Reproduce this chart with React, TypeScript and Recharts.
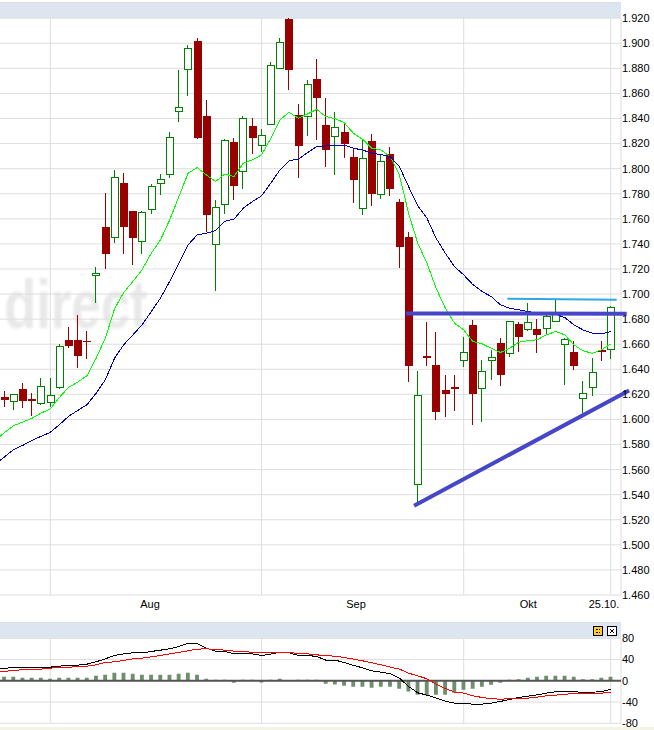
import {
  Bar,
  CartesianGrid,
  ComposedChart,
  Line,
  ReferenceLine,
  XAxis,
  YAxis,
} from 'recharts';

const opens = [
  1.618, 1.6144, 1.6245, 1.6165, 1.6128, 1.6136, 1.6258, 1.6636, 1.6636, 1.6628, 1.7151,
  1.7536, 1.7453, 1.7886, 1.7663, 1.7421, 1.7676, 1.7884, 1.7955, 1.8458, 1.8792, 1.9018,
  1.842, 1.7397, 1.7716, 1.8213, 1.7985, 1.8341, 1.8187, 1.8354, 1.8806, 1.9194, 1.8426,
  1.8418, 1.8715, 1.8346, 1.8258, 1.8293, 1.8094, 1.7684, 1.8221, 1.7796, 1.8117, 1.7735,
  1.7453, 1.5484, 1.6505, 1.6435, 1.6234, 1.626, 1.6473, 1.6754, 1.6249, 1.6473, 1.6611,
  1.6528, 1.6762, 1.6725, 1.672, 1.6728, 1.6789, 1.66, 1.6539, 1.617, 1.6257, 1.6555, 1.656,
];
const closes = [
  1.6152, 1.6203, 1.6144, 1.6144, 1.6266, 1.6195, 1.6585, 1.6582, 1.6503, 1.6614, 1.7167,
  1.7323, 1.7931, 1.7538, 1.7451, 1.7652, 1.786, 1.7916, 1.825, 1.8489, 1.896, 1.8248,
  1.7634, 1.7698, 1.8226, 1.7865, 1.8402, 1.8248, 1.8266, 1.8824, 1.9008, 1.879, 1.8184,
  1.8673, 1.8567, 1.8152, 1.8335, 1.82, 1.7913, 1.8083, 1.7801, 1.8059, 1.7841, 1.7379,
  1.643, 1.6194, 1.6494, 1.6056, 1.6199, 1.6239, 1.6536, 1.6199, 1.6385, 1.6502, 1.6356,
  1.6784, 1.6661, 1.6776, 1.6677, 1.6826, 1.6847, 1.664, 1.643, 1.621, 1.6377, 1.6539, 1.6895,
];
const highs = [
  1.6224, 1.6203, 1.6293, 1.6211, 1.6333, 1.6333, 1.6601, 1.6739, 1.6835, 1.6707, 1.7215,
  1.7807, 1.799, 1.7966, 1.7663, 1.7666, 1.7878, 1.7958, 1.8293, 1.8787, 1.8984, 1.9042,
  1.8548, 1.7751, 1.8237, 1.8245, 1.8418, 1.8404, 1.8314, 1.8851, 1.9045, 1.92, 1.8516,
  1.8707, 1.8875, 1.8564, 1.8452, 1.837, 1.8163, 1.8229, 1.8277, 1.8112, 1.8173, 1.7756,
  1.7496, 1.6388, 1.6778, 1.6699, 1.6353, 1.6353, 1.6656, 1.6794, 1.6475, 1.6555, 1.6651,
  1.6784, 1.6778, 1.693, 1.6802, 1.6847, 1.6954, 1.6648, 1.6627, 1.6305, 1.6489, 1.6627, 1.6906,
];
const lows = [
  1.6096, 1.6078, 1.6088, 1.603, 1.6112, 1.6102, 1.624, 1.6572, 1.6407, 1.6479, 1.6925,
  1.7203, 1.7411, 1.7323, 1.7233, 1.7323, 1.7642, 1.7793, 1.7929, 1.8375, 1.8582, 1.824,
  1.7498, 1.7028, 1.7642, 1.7751, 1.7838, 1.8117, 1.8133, 1.8354, 1.88, 1.863, 1.7929,
  1.8264, 1.8229, 1.8016, 1.7953, 1.8088, 1.773, 1.7634, 1.7706, 1.7759, 1.7785, 1.7211,
  1.6295, 1.5306, 1.643, 1.5992, 1.6016, 1.6071, 1.6422, 1.5957, 1.5976, 1.6316, 1.6263,
  1.6499, 1.6539, 1.6706, 1.6526, 1.6675, 1.6781, 1.6271, 1.6398, 1.605, 1.6191, 1.647, 1.6486,
];
const fastAverage = [
  1.5894, 1.595, 1.5979, 1.6009, 1.6051, 1.6083, 1.6176, 1.6256, 1.6298, 1.6349, 1.6489,
  1.6649, 1.6883, 1.7013, 1.7101, 1.7194, 1.7326, 1.7432, 1.7591, 1.7777, 1.7963, 1.8009,
  1.795, 1.7897, 1.7958, 1.7937, 1.8043, 1.807, 1.811, 1.8242, 1.8388, 1.845, 1.8402,
  1.8436, 1.8473, 1.8415, 1.8399, 1.8367, 1.8282, 1.8234, 1.8163, 1.8149, 1.8096, 1.795,
  1.7645, 1.7405, 1.7246, 1.7047, 1.6887, 1.6768, 1.6714, 1.6621, 1.6603, 1.6568, 1.6534,
  1.6568, 1.6616, 1.6629, 1.6635, 1.6675, 1.6701, 1.6675, 1.6595, 1.6547, 1.6528, 1.6555, 1.6603,
];
const slowAverage = [
  1.57, 1.5759, 1.5793, 1.5833, 1.5865, 1.5897, 1.5958, 1.6025, 1.6072, 1.6118, 1.621,
  1.6317, 1.6489, 1.6596, 1.6675, 1.6755, 1.6861, 1.6968, 1.7101, 1.7247, 1.7392, 1.7472,
  1.7485, 1.7506, 1.7581, 1.7597, 1.7684, 1.7738, 1.7783, 1.7884, 1.799, 1.8064, 1.8075,
  1.8128, 1.8176, 1.8181, 1.8187, 1.8187, 1.8163, 1.8149, 1.8123, 1.8112, 1.8096, 1.8017,
  1.7857, 1.7703, 1.7605, 1.7445, 1.7326, 1.7219, 1.7153, 1.7075, 1.702, 1.698, 1.6914,
  1.6887, 1.6874, 1.6861, 1.6847, 1.6847, 1.6839, 1.6813, 1.6754, 1.6714, 1.6688, 1.6683, 1.6701,
];
const macdLine = [
  23.8, 24.5, 25.1, 25.7, 25.7, 25.7, 27.6, 28.9, 29.5, 31.4, 35.8, 41.4, 47.7, 50.8, 52.7,
  52.7, 55.2, 57.7, 60.2, 64.6, 70.9, 69.6, 61.5, 55.8, 55.2, 50.8, 52.1, 50.8, 47.7, 50.2,
  54, 52.7, 47.7, 47.7, 45.8, 38.9, 38.9, 34.5, 28.9, 24.5, 18.8, 16.3, 13.2, 5, -10.7,
  -22.6, -27, -32.6, -38.3, -42, -42.7, -43.9, -43.9, -42, -38.9, -35.1, -31.4, -28.9,
  -26.4, -23.2, -20.7, -19.4, -20.1, -22.6, -21.3, -20.7, -15.7,
];
const signalLine = [
  18.2, 18.8, 21.3, 22, 22, 23.8, 25.1, 25.7, 26.4, 27.6, 30.1, 34.5, 35.8, 38.3, 41.4,
  42.7, 45.2, 47.7, 50.8, 53.3, 56.5, 59.6, 60.2, 59, 57.7, 55.8, 54.6, 54, 53.3, 52.7,
  53.3, 53.3, 51.4, 50.8, 48.9, 47.1, 46.4, 43.9, 40.8, 37.6, 33.9, 30.1, 25.7, 22, 14.4,
  9.4, 3.8, -6.3, -14.4, -21.3, -23.2, -28.2, -31.4, -33.9, -34.5, -33.9, -33.3, -32.6,
  -30.7, -28.2, -27, -25.1, -24.5, -24.5, -24.5, -23.2, -21.3,
];
const macdBars = [
  7.5, 7.5, 5.6, 5.6, 5.6, 3.8, 5.6, 5.6, 5.6, 5.6, 9.4, 11.3, 15, 15, 13.2, 11.3, 11.3,
  11.3, 11.3, 13.2, 15, 11.3, 3.8, 1.9, 1.9, -3.8, 1.9, 1.9, -3.1, 1.9, 3.8, 0, 1.9, 1.9,
  1.9, -5.6, -6.9, -9.4, -11.3, -11.3, -13.2, -11.3, -11.3, -15, -20, -26.4, -27, -26.4,
  -26.4, -22.6, -16.9, -15, -11.3, -7.5, -3.8, 1.9, 3.1, 5.6, 7.5, 9.4, 9.4, 9.4, 7.5,
  3.1, 3.1, 5.6, 7.5,
];

// the averages run in from the left edge, half a day before the first candle
const leadDay = -0.468;
const leadFast = 1.5865;
const leadSlow = 1.5674;
const leadMacd = 23.2;
const leadSignal = 18.2;
const lastDay = 67.12;

const priceTicks = [
  1.46, 1.48, 1.5, 1.52, 1.54, 1.56, 1.58, 1.6, 1.62, 1.64, 1.66, 1.68, 1.7, 1.72, 1.74,
  1.76, 1.78, 1.8, 1.82, 1.84, 1.86, 1.88, 1.9, 1.92,
];
const macdTicks = [-80, -40, 0, 40, 80];
const gridDays = [5, 28, 50, 66];
const labelDays = [15.86, 38.28, 57.03, 65.27];
const labelNames = ['Aug', 'Sep', 'Okt', '25.10.'];

const flatLine = [
  { x: 43.72, y: 1.6845 },
  { x: 67.74, y: 1.6843 },
];
const risingLine = [
  { x: 44.6, y: 1.5312 },
  { x: 68, y: 1.6231 },
];
const resistanceLine = [
  { x: 54.75, y: 1.6962 },
  { x: 66.65, y: 1.6954 },
];

const FONT = '"Liberation Sans", Arial, sans-serif';
const GRID = '#dedede';

const priceRows = [
  { day: leadDay, fast: leadFast, slow: leadSlow } as Record<string, number>,
  ...opens.map((open, day) => ({
    day,
    open,
    close: closes[day],
    high: highs[day],
    low: lows[day],
    fast: fastAverage[day],
    slow: slowAverage[day],
  })),
];

const macdRows = [
  { day: leadDay, macd: leadMacd, signal: leadSignal } as Record<string, number>,
  ...macdLine.map((macd, day) => ({
    day,
    macd,
    signal: signalLine[day],
    bar: macdBars[day],
  })),
];

function Candle(props: any) {
  const { x, y, width, height, payload } = props;
  if (payload.low === undefined) return null;
  const perUnit = height / (payload.high - payload.low);
  const yOf = (v: number) => y + (payload.high - v) * perUnit;
  const cx = Math.floor(x + width / 2) + 0.5;
  const up = payload.close >= payload.open;
  const color = up ? '#008000' : '#990000';
  const top = Math.round(yOf(Math.max(payload.open, payload.close)));
  const bottom = Math.round(yOf(Math.min(payload.open, payload.close)));
  return (
    <g shapeRendering="crispEdges">
      <line x1={cx} x2={cx} y1={yOf(payload.high)} y2={yOf(payload.low)} stroke={color} strokeWidth={1} />
      {up ? (
        <rect
          x={cx - 3.5}
          y={top + 0.5}
          width={7}
          height={Math.max(bottom - top, 1)}
          fill="#fff"
          stroke={color}
          strokeWidth={1}
        />
      ) : (
        <rect x={cx - 4} y={top} width={8} height={Math.max(bottom - top, 1)} fill={color} />
      )}
    </g>
  );
}

function Band({ top, height }: { top: number; height: number }) {
  return (
    <div
      style={{
        position: 'absolute',
        left: 0,
        top,
        width: 621,
        height,
        background: '#dde6f0',
        borderTop: `1px solid ${GRID}`,
        boxSizing: 'border-box',
      }}
    />
  );
}

function PanelButtons() {
  return (
    <svg style={{ position: 'absolute', left: 590, top: 623 }} width={30} height={15}>
      <rect x={3.5} y={3.5} width={9} height={9} fill="#ffcc33" stroke="#000" />
      <path d="M6 6.5h2M6 9.5h2M9 6.5h1M9 9.5h1" stroke="#000" fill="none" />
      <rect x={17.5} y={3.5} width={9} height={9} fill="#fff" stroke="#000" />
      <path d="M20 6l4 4M24 6l-4 4" stroke="#000" fill="none" />
    </svg>
  );
}

export default function App() {
  return (
    <div
      style={{
        position: 'absolute',
        left: 0,
        top: 0,
        width: 654,
        height: 730,
        background: '#fff',
        overflow: 'hidden',
        fontFamily: FONT,
      }}
    >
      <Band top={2} height={16} />
      <Band top={622} height={16} />
      <div
        style={{
          position: 'absolute',
          left: 4,
          top: 265,
          fontSize: 68,
          fontWeight: 700,
          lineHeight: '78px',
          color: '#e9e9e9',
          transform: 'scaleX(0.775)',
          transformOrigin: 'left top',
          filter: 'blur(1.5px)',
        }}
      >
        direct
      </div>
      <div style={{ position: 'absolute', left: 0, top: 727, width: 654, height: 3, background: '#f3f3e6' }} />

      <div style={{ position: 'absolute', left: 0, top: 0 }}>
        <ComposedChart
          width={654}
          height={620}
          data={priceRows}
          margin={{ top: 18.2, right: 0, bottom: 0, left: 0 }}
        >
          <CartesianGrid stroke={GRID} verticalValues={gridDays} />
          <XAxis
            dataKey="day"
            type="number"
            domain={[leadDay, lastDay]}
            allowDataOverflow
            ticks={labelDays}
            interval={0}
            tickFormatter={(v: number) => labelNames[labelDays.indexOf(v)]}
            tick={{ fontSize: 11, fill: '#000', fontFamily: FONT }}
            tickLine={false}
            axisLine={false}
            tickSize={0}
            tickMargin={5}
            height={25}
          />
          <YAxis
            type="number"
            orientation="right"
            domain={[1.46, 1.92]}
            ticks={priceTicks}
            interval={0}
            tickFormatter={(v: number) => v.toFixed(3)}
            tick={{ fontSize: 11, fill: '#000', fontFamily: FONT, textAnchor: 'start' }}
            tickLine={false}
            axisLine={false}
            tickSize={0}
            tickMargin={1}
            width={33}
          />
          <ReferenceLine x={lastDay} stroke={GRID} ifOverflow="visible" />
          <Bar
            dataKey={(row: any) => (row.low === undefined ? null : [row.low, row.high])}
            barSize={9}
            shape={Candle}
            isAnimationActive={false}
          />
          <Line
            dataKey="fast"
            stroke="#00ff00"
            strokeWidth={1}
            dot={false}
            style={{ shapeRendering: 'crispEdges' }}
            isAnimationActive={false}
          />
          <Line
            dataKey="slow"
            stroke="#0000b4"
            strokeWidth={1}
            dot={false}
            style={{ shapeRendering: 'crispEdges' }}
            isAnimationActive={false}
          />
          <ReferenceLine segment={flatLine} stroke="#4646c8" strokeWidth={4} ifOverflow="visible" />
          <ReferenceLine segment={risingLine} stroke="#4646c8" strokeWidth={4} ifOverflow="visible" />
          <ReferenceLine segment={resistanceLine} stroke="#2ca9e1" strokeWidth={2} ifOverflow="visible" />
        </ComposedChart>
      </div>

      <div style={{ position: 'absolute', left: 0, top: 620 }}>
        <ComposedChart
          width={654}
          height={110}
          data={macdRows}
          margin={{ top: 18.3, right: 0, bottom: 6.7, left: 0 }}
        >
          <CartesianGrid stroke={GRID} verticalValues={gridDays} />
          <XAxis
            dataKey="day"
            type="number"
            domain={[leadDay, lastDay]}
            allowDataOverflow
            hide
          />
          <YAxis
            type="number"
            orientation="right"
            domain={[-80, 80]}
            ticks={macdTicks}
            interval={0}
            tick={{ fontSize: 11, fill: '#000', fontFamily: FONT, textAnchor: 'start' }}
            tickLine={false}
            axisLine={false}
            tickSize={0}
            tickMargin={1}
            width={33}
          />
          <ReferenceLine x={lastDay} stroke={GRID} ifOverflow="visible" />
          <ReferenceLine y={0} stroke="#555" strokeWidth={2} />
          <Bar dataKey="bar" barSize={6} fill="#6f8f6c" isAnimationActive={false} />
          <Line
            dataKey="macd"
            stroke="#000"
            strokeWidth={1}
            dot={false}
            style={{ shapeRendering: 'crispEdges' }}
            isAnimationActive={false}
          />
          <Line
            dataKey="signal"
            stroke="#ff0000"
            strokeWidth={1}
            dot={false}
            style={{ shapeRendering: 'crispEdges' }}
            isAnimationActive={false}
          />
        </ComposedChart>
      </div>

      <PanelButtons />
    </div>
  );
}
